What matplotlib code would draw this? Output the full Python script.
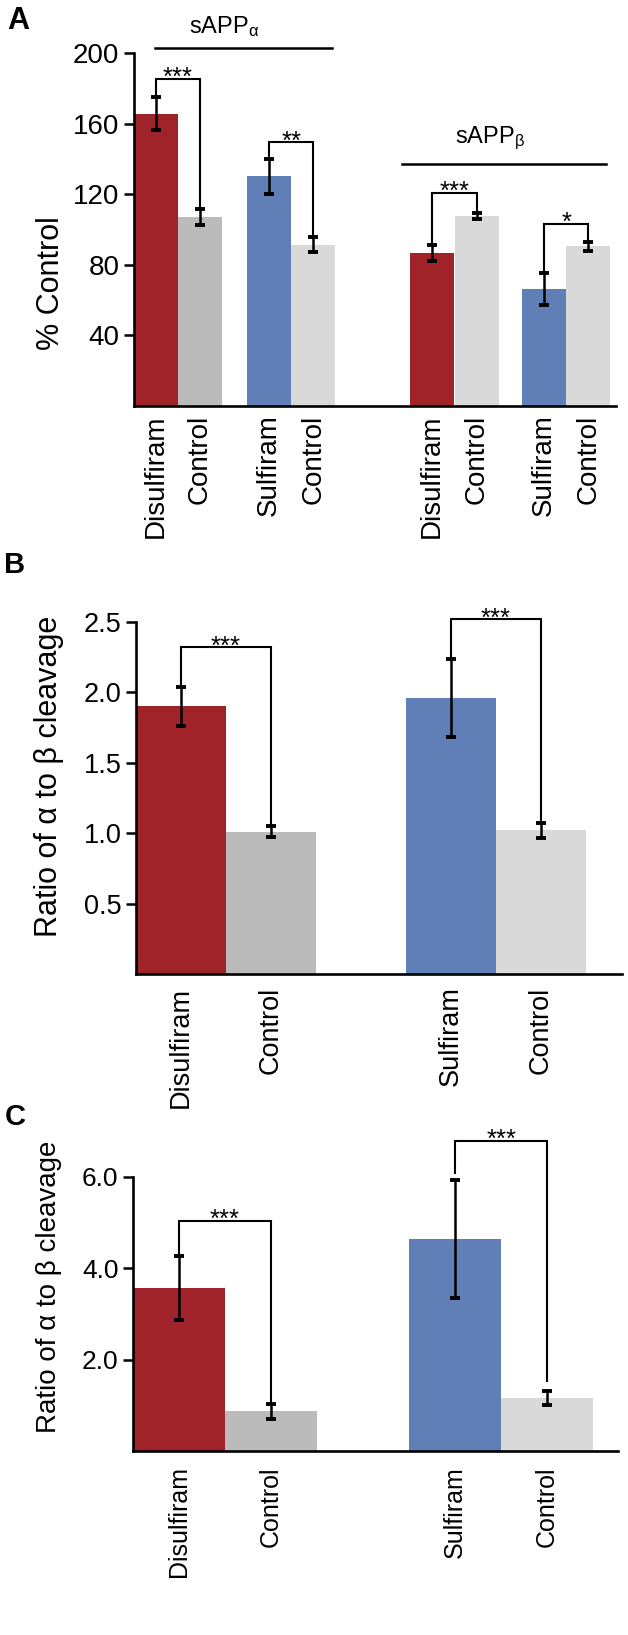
import matplotlib
matplotlib.use('Agg')
import matplotlib.pyplot as plt
import numpy as np

plt.rcParams['font.family'] = ['Liberation Sans', 'DejaVu Sans']
plt.rcParams['mathtext.fontset'] = 'custom'
plt.rcParams['mathtext.rm'] = 'Liberation Sans'
plt.rcParams['mathtext.it'] = 'Liberation Sans'
plt.rcParams['mathtext.default'] = 'regular'

# panel A: sAPPalpha / sAPPbeta as % of control
labels_a = ['Disulfiram', 'Control', 'Sulfiram', 'Control',
            'Disulfiram', 'Control', 'Sulfiram', 'Control']
means_a = [165.7, 107.0, 130.1, 91.4, 86.7, 107.6, 66.3, 90.5]
sem_a = [9.6, 4.5, 9.8, 4.3, 4.6, 1.9, 9.0, 2.4]

# panels B and C: ratio of alpha to beta cleavage
labels_bc = ['Disulfiram', 'Control', 'Sulfiram', 'Control']
means_b = [1.90, 1.01, 1.96, 1.02]
sem_b = [0.14, 0.04, 0.28, 0.055]
means_c = [3.57, 0.87, 4.64, 1.16]
sem_c = [0.71, 0.165, 1.30, 0.155]

# significance: (left bar, right bar, bracket height, stars, gap left, gap right)
sig_a = [(0, 1, 185.3, '***', 0, 0), (2, 3, 149.5, '**', 0, 0),
         (4, 5, 120.8, '***', 0, 0), (6, 7, 103.2, '*', 0, 0)]
sig_b = [(0, 1, 2.32, '***', 0.02, 0), (2, 3, 2.52, '***', 0.02, 0)]
sig_c = [(0, 1, 5.04, '***', 0, 0), (2, 3, 6.79, '***', 0.15, 0.22)]

red = '#A0232A'
blue = '#5F7FB6'
gray = '#BBBBBB'
light = '#D9D9D9'

W, H = 628, 1635
fig = plt.figure(figsize=(W / 100, H / 100), dpi=100)


def rect(x0, y0, x1, y1):
    return [x0 / W, 1 - y1 / H, (x1 - x0) / W, (y1 - y0) / H]


def style(ax, ticks, ticklabels, fs, xfs, xpad):
    for s in ['top', 'right']:
        ax.spines[s].set_visible(False)
    for s in ['left', 'bottom']:
        ax.spines[s].set_linewidth(1.9)
    ax.set_yticks(ticks)
    ax.set_yticklabels(ticklabels)
    ax.tick_params(axis='y', direction='out', length=7.5, width=1.8, labelsize=fs, pad=3)
    ax.tick_params(axis='x', length=0, labelsize=xfs, pad=xpad, labelrotation=90)


def brackets(ax, x, means, sems, sigs, fs=18.5):
    for i, j, h, stars, gl, gr in sigs:
        yl = means[i] + sems[i] + gl
        yr = means[j] + sems[j] + gr
        ax.plot([x[i], x[i], x[j], x[j]], [yl, h, h, yr], color='black', lw=1.5,
                clip_on=False, solid_joinstyle='miter')
        ax.annotate(stars, xy=((x[i] + x[j]) / 2, h), xytext=(0, -4.5),
                    textcoords='offset points', ha='center', va='baseline',
                    fontsize=fs, annotation_clip=False)


def bars(ax, lefts, means, sems, colors, labels):
    x = np.array(lefts) + 0.5
    ax.bar(x, means, width=1.0, color=colors, linewidth=0)
    ax.errorbar(x, means, yerr=sems, fmt='none', ecolor='black', elinewidth=1.8,
                capsize=3.5, capthick=2.8)
    ax.set_xticks(x)
    ax.set_xticklabels(labels, va='top')
    return x


# ---- panel A ----
axA = fig.add_axes(rect(134, 53, 616, 406))
xa = bars(axA, [0, 1, 2.57, 3.57, 6.27, 7.29, 8.82, 9.82], means_a, sem_a,
          [red, gray, blue, light, red, light, blue, light], labels_a)
axA.set_xlim(0, 10.95)
axA.set_ylim(0, 200)
style(axA, [40, 80, 120, 160, 200], ['40', '80', '120', '160', '200'], 20, 20, 6)
brackets(axA, xa, means_a, sem_a, sig_a)
axA.plot([0.48, 4.5], [203, 203], color='black', lw=1.8, clip_on=False)
axA.plot([6.09, 10.73], [137.3, 137.3], color='black', lw=1.8, clip_on=False)
axA.text(2.05, 211.5, 'sAPP$_{\\alpha}$', ha='center', va='baseline', fontsize=17, clip_on=False)
axA.text(8.1, 149, 'sAPP$_{\\beta}$', ha='center', va='baseline', fontsize=17, clip_on=False)
axA.set_ylabel('% Control', fontsize=22)
axA.yaxis.set_label_coords(-0.142, 0.348)

# ---- panel B ----
axB = fig.add_axes(rect(136, 622, 622, 974))
xb = bars(axB, [0, 1, 3, 4], means_b, sem_b, [red, gray, blue, light], labels_bc)
axB.set_xlim(0, 5.4)
axB.set_ylim(0, 2.5)
style(axB, [0.5, 1.0, 1.5, 2.0, 2.5], ['0.5', '1.0', '1.5', '2.0', '2.5'], 19.5, 19.5, 9)
brackets(axB, xb, means_b, sem_b, sig_b)
axB.set_ylabel('Ratio of α to β cleavage', fontsize=22)
axB.yaxis.set_label_coords(-0.148, 0.5625)

# ---- panel C ----
axC = fig.add_axes(rect(133, 1177, 618, 1451))
xc = bars(axC, [0, 1, 3, 4], means_c, sem_c, [red, gray, blue, light], labels_bc)
axC.set_xlim(0, 5.27)
axC.set_ylim(0, 6)
style(axC, [2, 4, 6], ['2.0', '4.0', '6.0'], 19, 18, 11)
brackets(axC, xc, means_c, sem_c, sig_c)
axC.set_ylabel('Ratio of α to β cleavage', fontsize=20)
axC.yaxis.set_label_coords(-0.146, 0.6)

# panel letters
fig.text(7 / W, 1 - 6 / H, 'A', fontsize=22, fontweight='bold', va='top', ha='left')
fig.text(4 / W, 1 - 551 / H, 'B', fontsize=21, fontweight='bold', va='top', ha='left')
fig.text(5 / W, 1 - 1103 / H, 'C', fontsize=21, fontweight='bold', va='top', ha='left')

fig.savefig('out.png', dpi=100)
